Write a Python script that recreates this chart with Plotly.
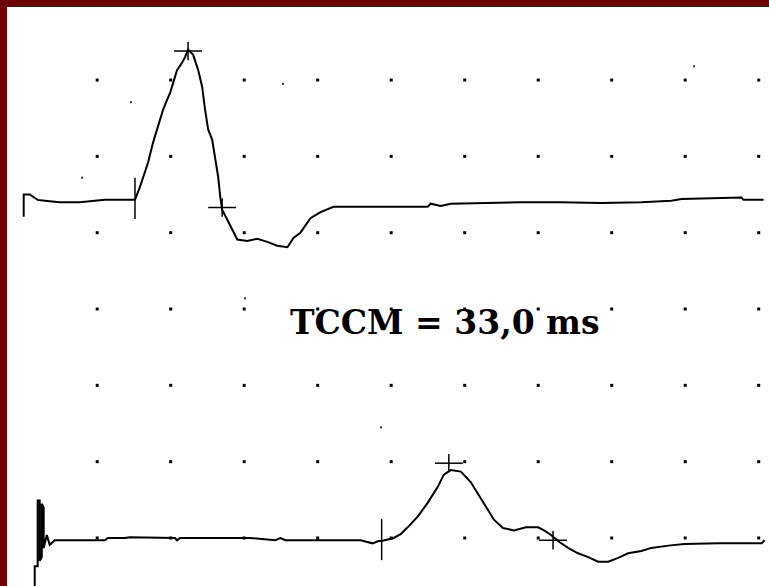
import plotly.graph_objects as go

# ---- Data (time in ms, amplitude in grid divisions) ----
upper_t = [0, 0, 0.41, 0.61, 0.95, 1.43, 2.46, 3.82, 4.84, 5.52, 6.89, 7.57, 7.91, 8.12, 8.46,
           8.80, 9.07, 9.28, 9.48, 9.75, 9.96, 10.16, 10.43, 10.78, 10.98, 11.18, 11.53, 11.87,
           12.14, 12.34, 12.55, 12.82, 13.03, 13.23, 13.37, 13.50, 13.85, 14.19, 14.53, 15.21,
           15.89, 16.57, 17.25, 17.94, 18.35, 18.82, 19.51, 20.19, 21.07, 24.28, 27.48, 27.69,
           28.37, 29.05, 31.10, 33.83, 36.55, 39.28, 42.01, 44.06, 44.74, 48.83, 48.97, 50.33]
upper_v = [4.21, 4.50, 4.50, 4.47, 4.43, 4.42, 4.40, 4.40, 4.42, 4.43, 4.43, 4.43, 4.60, 4.73, 4.92,
           5.18, 5.35, 5.48, 5.61, 5.74, 5.83, 5.96, 6.13, 6.23, 6.30, 6.40, 6.33, 6.13,
           5.91, 5.61, 5.35, 5.22, 4.99, 4.73, 4.47, 4.30, 4.17, 4.04, 3.91, 3.89,
           3.92, 3.88, 3.83, 3.81, 3.93, 4.00, 4.19, 4.27, 4.34, 4.34, 4.34, 4.38,
           4.35, 4.38, 4.39, 4.40, 4.40, 4.39, 4.40, 4.42, 4.44, 4.46, 4.43, 4.43]

lower_t = [0.75, 0.75, 0.95, 0.95, 1.09, 1.09, 1.23, 1.23, 1.36, 1.36, 1.57, 1.77, 2.11, 2.32,
           5.52, 5.73, 6.89, 7.23, 10.30, 10.43, 10.64, 15.41, 17.12, 17.46, 17.80, 22.92,
           23.26, 23.73, 24.14, 24.35, 25.17, 25.64, 26.12, 26.80, 27.48, 28.17, 28.58, 29.05,
           29.74, 30.42, 30.96, 31.58, 31.99, 32.60, 33.35, 34.17, 34.99, 35.40, 35.87, 36.42,
           37.03, 37.71, 38.40, 39.08, 39.76, 40.44, 41.12, 42.01, 42.69, 43.85, 44.94, 47.26,
           50.20, 50.40]
lower_v = [-0.68, -0.37, -0.37, 0.49, 0.49, -0.30, -0.25, 0.45, 0.40, -0.13, 0.04, -0.09, -0.03, -0.03,
           -0.03, 0.00, 0.00, 0.01, 0.00, -0.03, 0.00, 0.00, -0.03, 0.00, -0.03, -0.03,
           -0.05, -0.07, -0.04, -0.04, 0.00, 0.05, 0.14, 0.28, 0.46, 0.67, 0.83, 0.89,
           0.87, 0.73, 0.56, 0.37, 0.24, 0.13, 0.10, 0.14, 0.14, 0.10, 0.04, -0.05,
           -0.13, -0.20, -0.25, -0.31, -0.31, -0.26, -0.20, -0.17, -0.13, -0.10, -0.08, -0.07,
           -0.07, -0.03]

# Onset (latency) ticks and cross markers
onset_t = [7.57, 24.35]
onset_v = [4.45, -0.02]
cross_t = [11.18, 13.50, 28.92, 36.01]
cross_v = [6.38, 4.33, 0.98, -0.03]

# Dotted grid positions
grid_t = [5, 10, 15, 20, 25, 30, 35, 40, 45, 50]
grid_v = [0, 1, 2, 3, 4, 5, 6]
extra_t = [7.30, 3.97, 17.64, 45.60, 24.31, 15.05]
extra_v = [5.71, 4.72, 5.95, 6.18, 1.45, 3.14]

label_text = "TCCM = 33,0 ms"
label_t = 28.66
label_v = 2.82

# ---- Styles ----
MAROON = "#6e0000"
CROSS_HW = 0.95
CROSS_HH = 0.12
TICK_HH = 0.27

fig = go.Figure()

# grid dots
gx, gy = [], []
for v in grid_v:
    for t in grid_t:
        gx.append(t)
        gy.append(v)
fig.add_trace(go.Scatter(x=gx, y=gy, mode="markers",
                         marker=dict(symbol="square", size=3, color="black", line=dict(width=0)),
                         hoverinfo="skip"))
fig.add_trace(go.Scatter(x=extra_t, y=extra_v, mode="markers",
                         marker=dict(symbol="square", size=2, color="#333", line=dict(width=0)),
                         hoverinfo="skip"))

# traces
fig.add_trace(go.Scatter(x=upper_t, y=upper_v, mode="lines",
                         line=dict(color="black", width=2)))
fig.add_trace(go.Scatter(x=lower_t, y=lower_v, mode="lines",
                         line=dict(color="black", width=2)))

# onset ticks
tx, ty = [], []
for t, v in zip(onset_t, onset_v):
    tx += [t, t, None]
    ty += [v - TICK_HH, v + TICK_HH, None]
fig.add_trace(go.Scatter(x=tx, y=ty, mode="lines", line=dict(color="black", width=1.5)))

# crosses
cx, cy = [], []
for t, v in zip(cross_t, cross_v):
    cx += [t - CROSS_HW, t + CROSS_HW, None, t, t, None]
    cy += [v, v, None, v - CROSS_HH, v + CROSS_HH, None]
fig.add_trace(go.Scatter(x=cx, y=cy, mode="lines", line=dict(color="black", width=1.5)))

fig.add_annotation(x=label_t, y=label_v, text="<b>" + label_text + "</b>", showarrow=False,
                   xanchor="center", yanchor="middle",
                   font=dict(family="DejaVu Serif", size=33, color="black"))

fig.update_layout(
    width=769, height=586,
    margin=dict(l=7, r=0, t=7, b=0),
    paper_bgcolor=MAROON, plot_bgcolor="white",
    showlegend=False,
    xaxis=dict(range=[-1.136, 50.70], showgrid=False, zeroline=False, showticklabels=False,
               ticks="", side="top", showline=True, linecolor="#222", linewidth=1, fixedrange=True),
    yaxis=dict(range=[-0.629, 6.957], showgrid=False, zeroline=False, showticklabels=False,
               ticks="", showline=False, fixedrange=True),
)

fig.write_html("out.html", config={"displayModeBar": False},
               post_script="document.body.style.margin='0';document.body.style.overflow='hidden';")
